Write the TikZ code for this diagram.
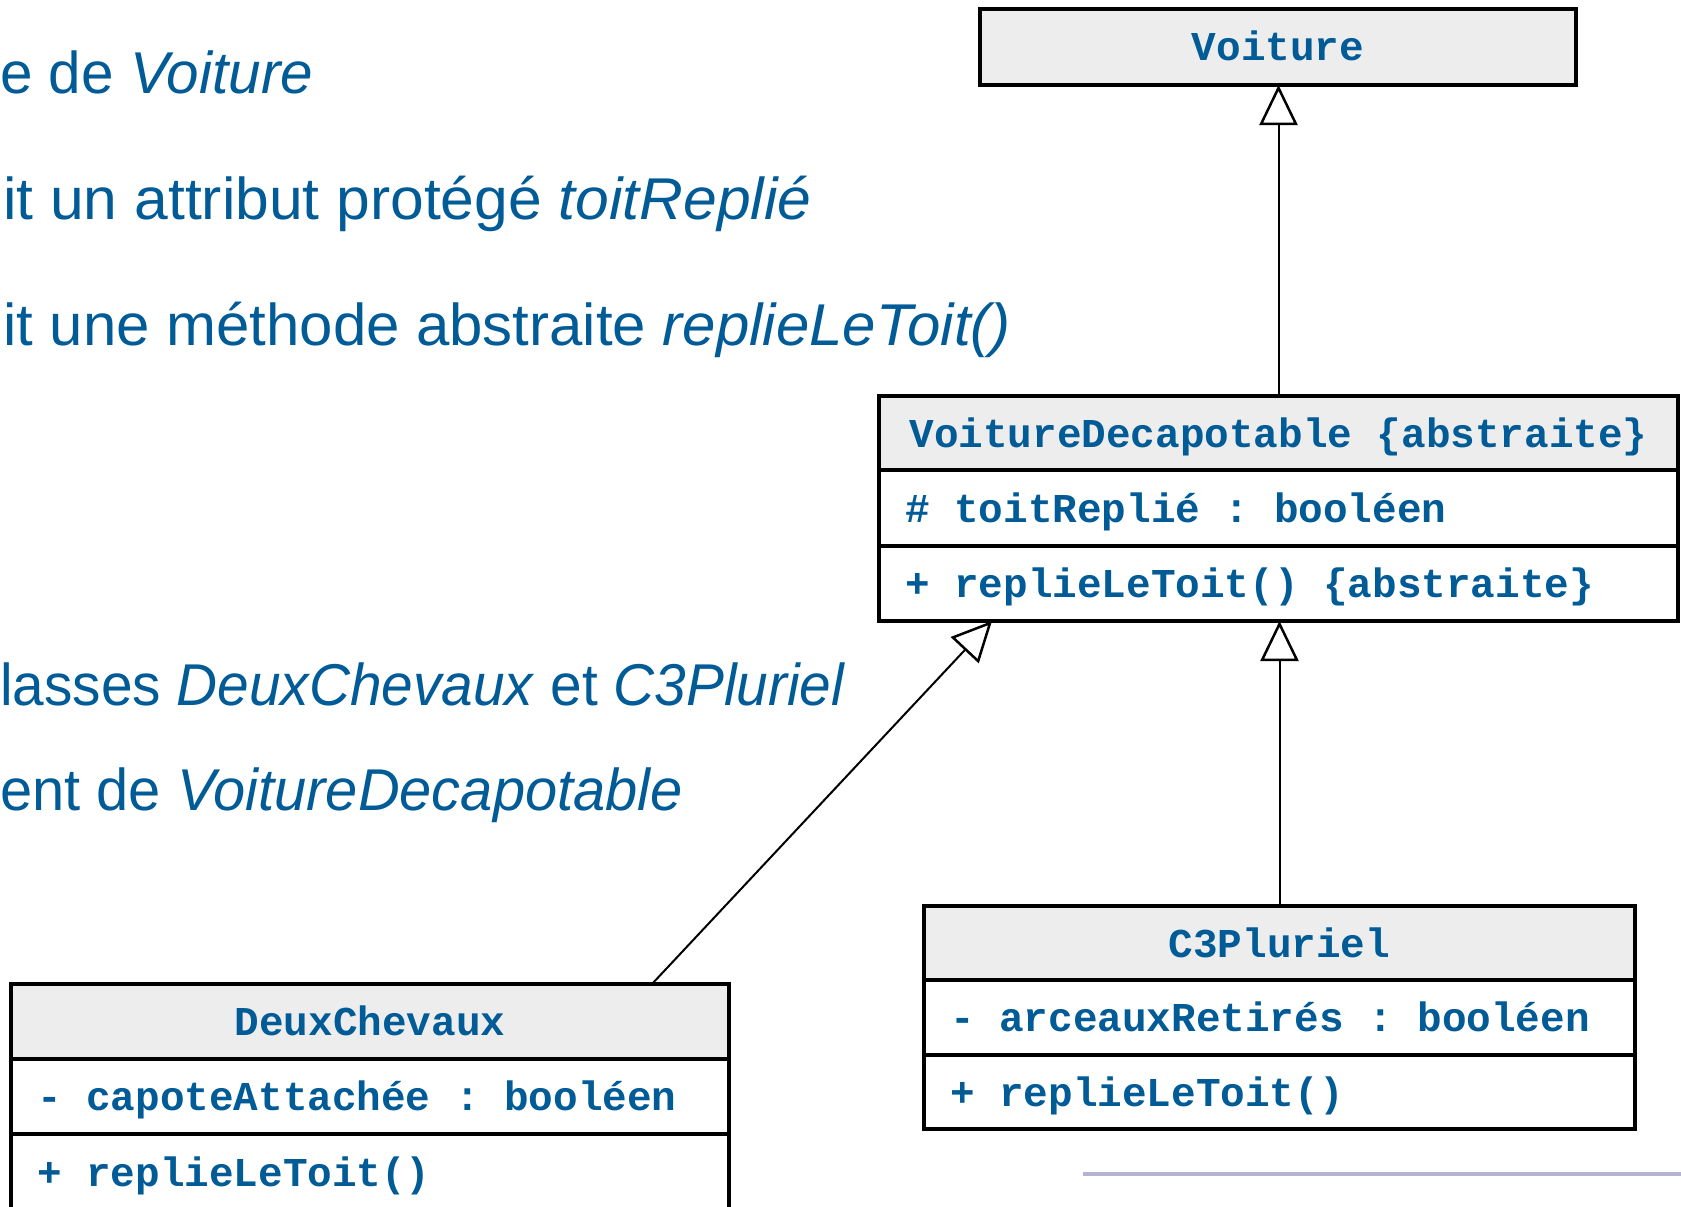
\documentclass[tikz,border=0pt]{standalone}
\usepackage{graphicx}
\usepackage{fontspec}
\setmainfont{Liberation Sans}
\newfontfamily\umlfont{Liberation Mono}
\usetikzlibrary{arrows.meta}
\definecolor{txtblue}{RGB}{0,91,150}
\definecolor{hdrgray}{RGB}{237,237,237}
\definecolor{footline}{RGB}{180,180,210}
\newcommand{\usp}{\hspace*{0.6em}}
\begin{document}
\begin{tikzpicture}[x=1pt,y=-1pt,
  bigtext/.style={anchor=base west, inner sep=0pt, text=txtblue, font=\fontsize{59}{60}\selectfont},
  comp/.style={draw=black, line width=3.5pt, outer sep=0pt, inner xsep=26pt, inner ysep=0pt, text=txtblue,
    font=\umlfont\bfseries\fontsize{41}{42}\selectfont, text height=30pt, text depth=2pt, anchor=north west},
  hdr/.style={comp, fill=hdrgray, align=center},
  body/.style={comp, fill=white, align=left},
  inherit/.style={line width=2pt, -{Triangle[length=40pt,width=38pt,fill=white,line width=2.5pt]}}
]
\useasboundingbox (0,0) rectangle (1681,1207);

% left text
\node[bigtext] (t1) at (0,93) {\scalebox{0.99}[1]{e de \textit{Voiture}}};
\node[bigtext] (t2) at (3,219) {\scalebox{1.027}[1]{it un attribut protégé \textit{toitReplié}}};
\node[bigtext] (t3) at (3,345) {\scalebox{1.016}[1]{it une méthode abstraite \textit{replieLeToit()}}};
\node[bigtext] (t4) at (0,705) {\scalebox{0.962}[1]{lasses \textit{DeuxChevaux} et \textit{C3Pluriel}}};
\node[bigtext] (t5) at (0,810) {\scalebox{0.98}[1]{ent de \textit{VoitureDecapotable}}};

% Voiture
\node[hdr, text width=544pt, minimum height=76pt] (voit) at (980,9) {Voiture};

% VoitureDecapotable
\node[hdr, text width=747pt, minimum height=74pt] (vdh) at (879,396) {VoitureDecapotable\usp\{abstraite\}};
\node[body, text width=747pt, minimum height=76pt] (vda) at (vdh.south west) {\#\usp toitReplié\usp:\usp booléen};
\node[body, text width=747pt, minimum height=75pt] (vdm) at (vda.south west) {+\usp replieLeToit()\usp\{abstraite\}};

% C3Pluriel
\node[hdr, text width=659pt, minimum height=74pt] (c3h) at (924,906) {C3Pluriel};
\node[body, text width=659pt, minimum height=75pt] (c3a) at (c3h.south west) {-\usp arceauxRetirés\usp:\usp booléen};
\node[body, text width=659pt, minimum height=74pt] (c3m) at (c3a.south west) {+\usp replieLeToit()};

% DeuxChevaux
\node[hdr, text width=666pt, minimum height=75pt] (dch) at (11,984) {DeuxChevaux};
\node[body, text width=666pt, minimum height=75pt] (dca) at (dch.south west) {-\usp capoteAttachée\usp:\usp booléen};
\node[body, text width=666pt, minimum height=76pt] (dcm) at (dca.south west) {+\usp replieLeToit()};

% inheritance
\draw[inherit] (vdh.north) -- (vdh.north |- voit.south);
\draw[inherit] (c3h.north) -- (c3h.north |- vdm.south);
\draw[inherit] ([xshift=641pt]dch.north west) -- ([xshift=113pt]vdm.south west);

% footer line
\draw[footline, line width=4pt] (1083,1174) -- (1681,1174);
\end{tikzpicture}
\end{document}
